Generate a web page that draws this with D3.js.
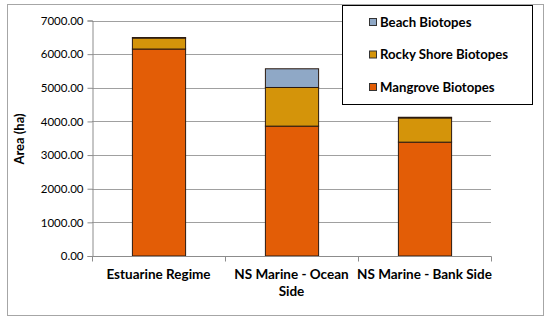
<!DOCTYPE html>
<html><head><meta charset="utf-8">
<script src="https://cdn.jsdelivr.net/npm/d3@7"></script>
<style>body{margin:0;background:#fff;} svg{display:block;font-family:Lato, "Open Sans", sans-serif;}</style>
</head><body>
<svg id="c" width="550" height="323"></svg>
<script>
const categories = [["Estuarine Regime"], ["NS Marine - Ocean", "Side"], ["NS Marine - Bank Side"]];
const seriesNames = ["Mangrove Biotopes", "Rocky Shore Biotopes", "Beach Biotopes"];
const mangrove = [6152, 3860, 3384];
const rocky = [327, 1149, 720];
const beach = [15, 556, 20];
const yTicks = [0, 1000, 2000, 3000, 4000, 5000, 6000, 7000];
const colors = ["#E35D06", "#D4940A", "#8FA8C6"];

const svg = d3.select("#c");
const m = {l: 92, r: 491, t: 20.5, b: 256};
const keys = categories.map(c => c.join(" "));
const x = d3.scaleBand().domain(keys).range([m.l, m.r]).paddingInner(0.6).paddingOuter(0.3);
const xb = d3.scaleBand().domain(keys).range([m.l, m.r]);
const y = d3.scaleLinear().domain([0, 7000]).range([m.b, m.t]);

// frame
svg.append("rect").attr("x", 7.5).attr("y", 4.5).attr("width", 536).attr("height", 311)
  .attr("fill", "#fff").attr("stroke", "#a6a6a6");

// gridlines
svg.append("g").selectAll("line").data(yTicks.slice(1)).join("line")
  .attr("x1", m.l).attr("x2", m.r).attr("y1", d => Math.round(y(d)) + 0.5).attr("y2", d => Math.round(y(d)) + 0.5)
  .attr("stroke", "#a0a0a0").attr("stroke-width", 1);

// y axis
const ya = svg.append("g").attr("transform", `translate(${m.l + 0.5},0)`)
  .call(d3.axisLeft(y).tickValues(yTicks).tickFormat(d3.format(".2f")).tickSize(5).tickPadding(4));
ya.select(".domain").attr("stroke", "#8c8c8c");
ya.selectAll(".tick line").attr("stroke", "#8c8c8c");
ya.selectAll("text").attr("font-size", 11.5).attr("fill", "#000").attr("font-family", "Lato, sans-serif");

// stacked bars
const data = keys.map((k, i) => ({key: k, m: mangrove[i], r: rocky[i], b: beach[i]}));
const stack = d3.stack().keys(["m", "r", "b"])(data);
svg.append("g").selectAll("g").data(stack).join("g").attr("fill", (d, i) => colors[i])
  .selectAll("rect").data(d => d).join("rect")
  .attr("x", d => x(d.data.key) + 0.5).attr("width", x.bandwidth())
  .attr("y", d => y(d[1])).attr("height", d => y(d[0]) - y(d[1]))
  .attr("stroke", "#2b1a10").attr("stroke-width", 1);

// x axis
const xa = svg.append("g").attr("transform", `translate(0,${m.b + 0.5})`);
xa.append("line").attr("x1", m.l).attr("x2", m.r + 0.5).attr("stroke", "#8c8c8c");
const bounds = [m.l, ...keys.map(k => xb(k) + xb.bandwidth())];
xa.selectAll(".tk").data(bounds).join("line").attr("class", "tk")
  .attr("x1", d => Math.round(d) + 0.5).attr("x2", d => Math.round(d) + 0.5).attr("y1", 0).attr("y2", 5)
  .attr("stroke", "#8c8c8c");
const lab = xa.selectAll(".lab").data(categories).join("text").attr("class", "lab")
  .attr("x", (d, i) => xb(keys[i]) + xb.bandwidth() / 2)
  .attr("y", 22).attr("text-anchor", "middle").attr("font-size", 13.5).attr("font-weight", "bold");
lab.selectAll("tspan").data(d => d).join("tspan")
  .attr("x", function() { return this.parentNode.getAttribute("x"); })
  .attr("dy", (d, i) => i === 0 ? 0 : 17).text(d => d);

// y title
svg.append("text").attr("transform", "translate(24,139) rotate(-90)").attr("text-anchor", "middle")
  .attr("font-size", 13).attr("font-weight", "bold").text("Area (ha)");

// legend
const lg = svg.append("g");
lg.append("rect").attr("x", 342.5).attr("y", 5.5).attr("width", 190).attr("height", 99)
  .attr("fill", "#fff").attr("stroke", "#000");
const legendOrder = [2, 1, 0];
const li = lg.selectAll(".li").data(legendOrder).join("g").attr("class", "li")
  .attr("transform", (d, i) => `translate(369,${22 + i * 32.5})`);
li.append("rect").attr("x", 0.5).attr("y", -3.5).attr("width", 7).attr("height", 7)
  .attr("fill", d => colors[d]).attr("stroke", "#333");
li.append("text").attr("x", 11).attr("y", 4.5).attr("font-size", 13.2).attr("font-weight", "bold")
  .text(d => seriesNames[d]);
</script>
</body></html>
